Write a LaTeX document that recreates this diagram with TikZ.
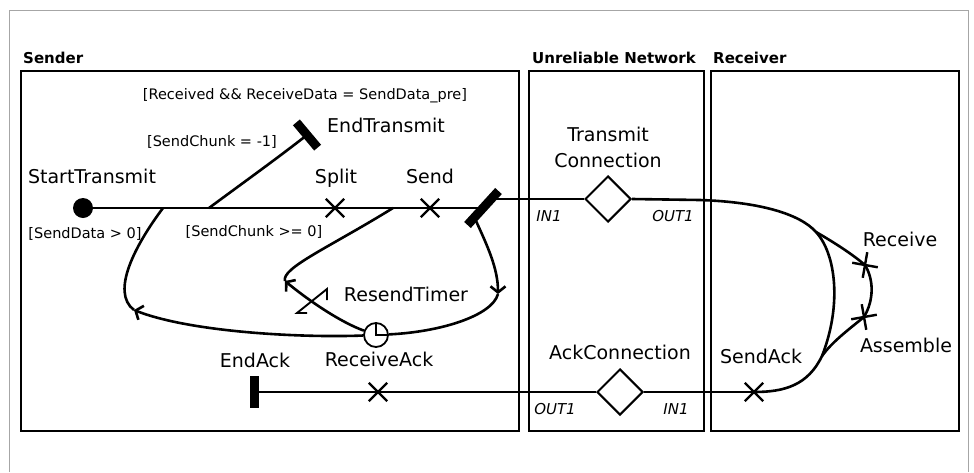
\documentclass[tikz,border=0pt]{standalone}
\usepackage{fontspec}
\setmainfont{DejaVu Sans}
\usetikzlibrary{arrows.meta,positioning,calc,shapes.geometric,shapes.misc}

\begin{document}
\begin{tikzpicture}[x=1pt,y=-1pt,
  >={Straight Barb[length=6pt,width=15pt]},
  flow/.style={line width=2.6pt},
  lane/.style={draw,line width=2.4pt},
  xmark/.style={cross out,draw,line width=2.4pt,minimum size=16pt,inner sep=0pt},
  bar/.style={fill,inner sep=0pt,minimum height=9pt},
  conn/.style={diamond,draw,fill=white,line width=2pt,minimum size=46pt,inner sep=0pt},
  clock/.style={circle,draw,fill=white,line width=1.8pt,minimum size=24pt,inner sep=0pt,
    path picture={\draw[line width=1.5pt] (path picture bounding box.north)
      -- (path picture bounding box.center) -- (path picture bounding box.east);}},
  lbl/.style={font=\fontsize{19}{26}\selectfont,anchor=base,inner sep=0pt},
  guard/.style={font=\fontsize{14.5}{16}\selectfont,anchor=base,inner sep=0pt},
  port/.style={font=\fontsize{15}{16}\selectfont\itshape,anchor=base,inner sep=0pt},
  head/.style={font=\fontsize{15}{17}\selectfont\bfseries,anchor=base west,inner sep=0pt}]

\useasboundingbox (0,0) rectangle (974,472);

%% Outer frame
\draw[gray!70,line width=1pt] (9,472) -- (9,10) -- (968,10) -- (968,472);

%% Swimlanes
\draw[lane] (21,71) rectangle (519,431);
\draw[lane] (529,71) rectangle (704,431);
\draw[lane] (711,71) rectangle (959,431);
\node[head] (lSender) at (23,63) {Sender};
\node[head] (lNet) at (532,63) {Unreliable Network};
\node[head] (lRecv) at (713,63) {Receiver};

%% Sender elements
\node[circle,fill,minimum size=20pt,inner sep=0pt] (start) at (83,208) {};
\node[xmark] (split) at (335,208) {};
\node[xmark] (send) at (430,208) {};
\node[bar,minimum width=46pt,rotate=47.6] (sendbar) at (483,208) {};
\node[bar,minimum width=33pt,rotate=-50] (endtx) at (307,135) {};
\node[bar,minimum width=9pt,minimum height=32pt] (endack) at (254,392) {};
\node[xmark] (recvack) at (378,392) {};
\node[clock] (ackclock) at (376,335) {};

%% Network connectors
\node[conn] (tc) at (608,199) {};
\node[conn] (ac) at (620,392) {};

%% Receiver elements
\node[xmark,rotate=35] (receive) at (865,265) {};
\node[xmark,rotate=-35] (assemble) at (864,317) {};
\node[xmark] (sendack) at (754,392) {};

%% Points on the flows
\coordinate (fLoop) at (163,208);
\coordinate (fEnd) at (209,208);
\coordinate (fResend) at (393,208);
\coordinate (sbHigh) at ([xshift=8pt]sendbar.center |- tc.west);
\coordinate (sbLow) at ($(sendbar.center)!0.55!(sendbar.west)$);
\coordinate (rtVtx) at (498,294);
\coordinate (rsVtx) at (285,281);
\coordinate (lpVtx) at (134,310);
\coordinate (rFork) at (816,232);
\coordinate (rJoin) at (822,356);

%% Sender flows
\draw[flow] (start) -- (sendbar.center);
\draw[flow] (fEnd) .. controls (240,185) and (275,160) .. (endtx.center);
\draw[flow,->] (sbLow) .. controls (487,245) and (498,268) .. (rtVtx);
\draw[flow] (rtVtx) .. controls (492,316) and (440,332) .. (ackclock);
\draw[flow,->] (ackclock) .. controls (340,322) and (308,300) .. (rsVtx);
\draw[flow] (rsVtx) .. controls (281,268) and (330,247) .. (fResend);
\draw[flow,->] (ackclock) .. controls (300,338) and (190,332) .. (lpVtx);
\draw[flow] (lpVtx) .. controls (110,292) and (136,244) .. (fLoop);

%% Timer symbol
\draw[line width=1.9pt] (307,313) -- (297,313) -- (327,289) -- (327,300);

%% Transmission to receiver
\draw[flow] (sbHigh) -- (tc.west);
\draw[flow] (tc.east) -- (700,200) .. controls (760,202) and (800,214) .. (rFork)
  .. controls (836,254) and (842,305) .. (rJoin)
  .. controls (808,385) and (785,392) .. (sendack.center);
\draw[flow] (rFork) .. controls (835,243) and (852,254) .. (receive.center);
\draw[flow] (receive.center) .. controls (874,280) and (874,300) .. (assemble.center);
\draw[flow] (assemble.center) .. controls (848,330) and (832,342) .. (rJoin);

%% Acknowledgement back to sender
\draw[flow] (sendack.center) -- (ac.east);
\draw[flow] (ac.west) -- (endack.center);

%% Labels
\node[lbl] (lStart) at (92,183) {StartTransmit};
\node[lbl] (lSplit) at (336,183) {Split};
\node[lbl] (lSend) at (430,183) {Send};
\node[lbl] (lEndTx) at (386,132) {EndTransmit};
\node[lbl] (lTimer) at (406,301) {ResendTimer};
\node[lbl] (lRecvAck) at (379,366) {ReceiveAck};
\node[lbl] (lEndAck) at (255,367) {EndAck};
\node[lbl,align=center] (lTc) at (608,167) {Transmit\\Connection};
\node[lbl] (lAc) at (620,359) {AckConnection};
\node[lbl] (lSendAck) at (761,363) {SendAck};
\node[lbl] (lReceive) at (900,246) {Receive};
\node[lbl] (lAssemble) at (906,352) {Assemble};

%% Guards
\node[guard] (gDone) at (305,99) {[Received \&\& ReceiveData = SendData\_pre]};
\node[guard] (gLast) at (212,146) {[SendChunk = -1]};
\node[guard] (gData) at (85,238) {[SendData > 0]};
\node[guard] (gMore) at (254,236) {[SendChunk >= 0]};

%% Ports
\node[port] (pTcIn) at (549,221) {IN1};
\node[port] (pTcOut) at (673,221) {OUT1};
\node[port] (pAcOut) at (555,414) {OUT1};
\node[port] (pAcIn) at (676,414) {IN1};

\end{tikzpicture}
\end{document}
